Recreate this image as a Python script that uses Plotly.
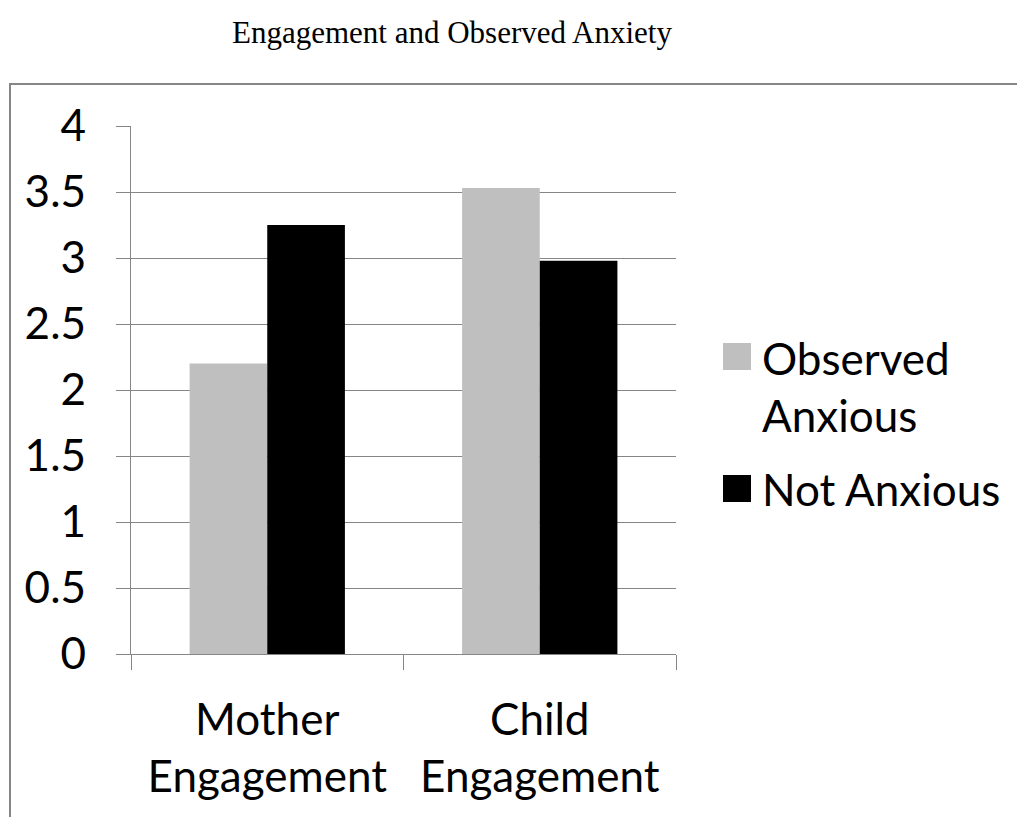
import plotly.graph_objects as go

categories = ["Mother Engagement", "Child Engagement"]
tick_labels = ["Mother<br>Engagement", "Child<br>Engagement"]
series_names = ["Observed Anxious", "Not Anxious"]
observed_anxious = [2.2, 3.53]
not_anxious = [3.25, 2.98]
y_ticks = [0, 0.5, 1, 1.5, 2, 2.5, 3, 3.5, 4]
y_tick_labels = ["0", "0.5", "1", "1.5", "2", "2.5", "3", "3.5", "4"]
title_text = "Engagement and Observed Anxiety"

colors = ["#BFBFBF", "#000000"]
GRID = "#868686"
FONT = "Lato"
FS = 44

W, H = 1017, 817
L, R, T, B = 131, W - 676, 126, H - 654
PW, PH = W - L - R, H - T - B


def px(x):
    return (x - L) / PW


def py(y):
    return (H - B - y) / PH


fig = go.Figure()
for name, vals, c in zip(series_names, [observed_anxious, not_anxious], colors):
    fig.add_trace(go.Bar(x=categories, y=vals, name=name, marker=dict(color=c, line=dict(width=0)),
                         showlegend=False))

shapes = []
annotations = []
# outer chart border
shapes.append(dict(type="rect", xref="paper", yref="paper", x0=px(10), x1=px(1040), y0=py(84), y1=py(840),
                   line=dict(color=GRID, width=2), fillcolor="rgba(0,0,0,0)", layer="below"))

# manual legend (large square keys)
leg_sq = [(343, 370), (475, 502)]
leg_txt_y = [386, 489]
for name, c, (s0, s1), ty in zip(series_names, colors, leg_sq, leg_txt_y):
    shapes.append(dict(type="rect", xref="paper", yref="paper", x0=px(723), x1=px(751), y0=py(s1), y1=py(s0),
                       line=dict(width=0), fillcolor=c))
    label = name.replace("Observed ", "Observed<br>")
    annotations.append(dict(text=label, xref="paper", yref="paper", x=px(760), y=py(ty), xanchor="left",
                            yanchor="middle", showarrow=False, align="left",
                            font=dict(family=FONT, size=FS, color="#000000")))

annotations.append(dict(text=title_text, xref="paper", yref="paper", x=px(452), y=py(32), xanchor="center",
                        yanchor="middle", showarrow=False,
                        font=dict(family="Liberation Serif, Times New Roman, serif", size=31, color="#000000")))

fig.update_layout(
    width=W, height=H,
    margin=dict(l=L, r=R, t=T, b=B, pad=0),
    paper_bgcolor="white", plot_bgcolor="white",
    barmode="group", bargap=0.43, bargroupgap=0,
    showlegend=False,
    shapes=shapes, annotations=annotations,
    font=dict(family=FONT, size=FS, color="#000000"),
)
fig.update_yaxes(range=[0, 4], tickvals=y_ticks, ticktext=y_tick_labels, showgrid=True, gridcolor=GRID,
                 gridwidth=1.3, showline=True, linecolor=GRID, linewidth=1.3, ticks="outside", ticklen=14,
                 tickcolor=GRID, tickwidth=1.3, ticklabelstandoff=21, zeroline=False,
                 tickfont=dict(family=FONT, size=FS, color="#000000"))
fig.update_xaxes(tickvals=categories, ticktext=tick_labels, showline=True, linecolor=GRID, linewidth=1.3,
                 ticks="outside", tickson="boundaries", ticklen=15, tickcolor=GRID, tickwidth=1.3,
                 ticklabelstandoff=27, tickfont=dict(family=FONT, size=FS, color="#000000"))

fig.write_html("out.html", config={"displayModeBar": False})
